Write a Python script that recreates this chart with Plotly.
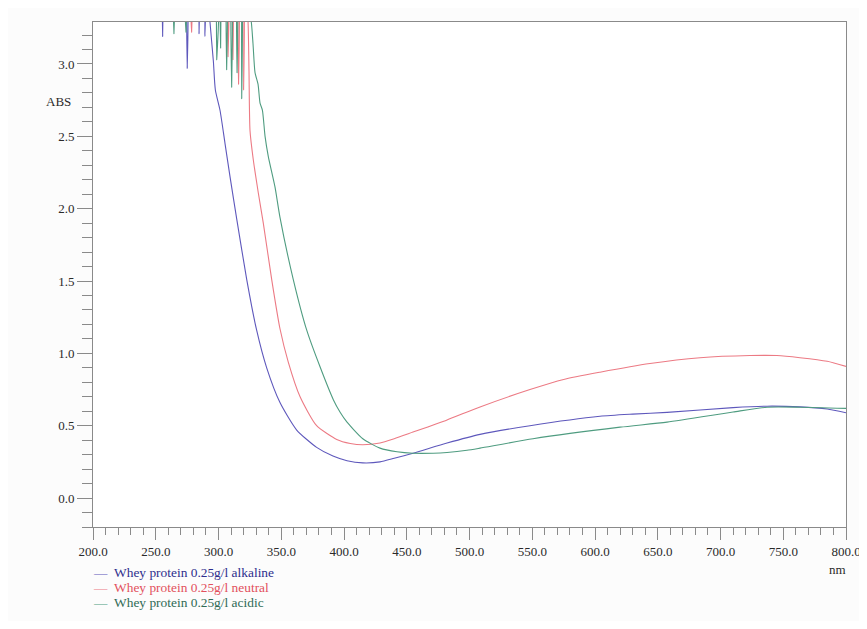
import plotly.graph_objects as go

# ---- data ----
alk_nm = [250, 254.5, 255.5, 256.5, 262, 273.5, 275.1, 276.5, 283.5, 284.5, 285.5, 288, 289.2, 290.5,
          293.2, 295.9, 297.5, 301.2, 305.2, 309.2, 314.5, 322.5, 330.4, 338.4, 349.0, 362.3, 378.2,
          391.2, 402.4, 415.0, 428.7, 440, 455.0, 482.1, 508.4, 548.2, 604.0, 630, 657.4,
          710.0, 737.1, 763.4, 785, 800]
alk_abs = [3.6, 3.6, 3.19, 3.6, 3.6, 3.6, 2.97, 3.6, 3.6, 3.21, 3.6, 3.6, 3.19, 3.6,
           3.29, 3.02, 2.82, 2.68, 2.45, 2.22, 1.93, 1.51, 1.16, 0.90, 0.66, 0.47, 0.35,
           0.29, 0.258, 0.243, 0.25, 0.275, 0.31, 0.38, 0.44, 0.50, 0.565, 0.58, 0.592,
           0.625, 0.635, 0.63, 0.615, 0.59]

neu_nm = [270, 277.8, 278.6, 279.4, 300, 306.8, 307.6, 308.4, 310.8, 311.5, 312.2, 315.3, 316.0, 316.7,
          319.3, 320.0, 320.7, 323.5, 324.3, 325.1, 327.7, 331.7, 335.7, 342.4, 349.0, 355.6, 365.0,
          378.2, 394.2, 405, 415.0, 428.7, 440, 455.0, 482.1, 508.4, 548.2, 575, 604.0,
          643.8, 683.7, 723.5, 745.0, 763.3, 785, 800]
neu_abs = [3.6, 3.6, 3.22, 3.6, 3.6, 3.6, 3.05, 3.6, 3.6, 3.03, 3.6, 3.6, 2.86, 3.6,
           3.6, 2.82, 3.6, 3.3, 2.95, 2.54, 2.34, 2.11, 1.90, 1.51, 1.17, 0.94, 0.70,
           0.50, 0.405, 0.377, 0.368, 0.38, 0.41, 0.456, 0.54, 0.63, 0.75, 0.82, 0.87,
           0.93, 0.97, 0.985, 0.985, 0.97, 0.945, 0.91]

aci_nm = [255, 263.8, 264.5, 265.2, 273.4, 274.1, 274.8, 297.9, 298.6, 299.3, 301.0, 301.7, 302.4,
          305.8, 306.5, 307.2, 309.8, 310.5, 311.2, 314.1, 314.8, 315.5, 317.8, 318.5, 319.2,
          326.0, 327.5, 329.1, 331.5, 333.1, 335.0, 337.1, 339.7, 345.0, 349.0, 359.6, 370.3,
          380.9, 391.5, 396.8, 402.4, 415.0, 428.7, 442.2, 455.0,
          471.0, 482.1, 498.0, 508.4, 550.6, 620.0, 657.4, 710.0, 737.1, 763.4, 800]
aci_abs = [3.6, 3.6, 3.21, 3.6, 3.6, 3.22, 3.6, 3.6, 3.03, 3.6, 3.6, 3.11, 3.6,
           3.6, 2.96, 3.6, 3.6, 2.84, 3.6, 3.6, 2.94, 3.6, 3.6, 2.76, 3.6,
           3.3, 3.14, 2.94, 2.86, 2.73, 2.68, 2.50, 2.36, 2.15, 1.94, 1.51, 1.16,
           0.907, 0.68, 0.595, 0.525, 0.41, 0.345, 0.32, 0.31,
           0.31, 0.315, 0.33, 0.345, 0.41, 0.49, 0.525, 0.595, 0.628, 0.628, 0.62]

series_names = ["Whey protein 0.25g/l alkaline",
                "Whey protein 0.25g/l neutral",
                "Whey protein 0.25g/l acidic"]
line_colors = ["#5e58bc", "#ec7a84", "#4f9c80"]
text_colors = ["#2e2e8c", "#e2505c", "#2f6a55"]

y_ticks = [0.0, 0.5, 1.0, 1.5, 2.0, 2.5, 3.0]
x_ticks = [200, 250, 300, 350, 400, 450, 500, 550, 600, 650, 700, 750, 800]

serif = "Liberation Serif, Times New Roman, serif"

fig = go.Figure()
legend_anns = []
for i, (xs, ys, nm, lc, tc) in enumerate(zip([alk_nm, neu_nm, aci_nm], [alk_abs, neu_abs, aci_abs],
                                             series_names, line_colors, text_colors)):
    fig.add_trace(go.Scatter(
        x=xs, y=ys, mode="lines",
        line=dict(color=lc, width=1.1, shape="spline", smoothing=0.6),
        name=nm, showlegend=False,
    ))
    legend_anns.append(dict(
        text=f"<span style='color:{lc}'>—</span> \u00a0<span style='color:{tc}'>{nm}</span>",
        xref="paper", yref="paper", x=-0.002, y=-0.091 - i * 0.0297,
        xanchor="left", yanchor="middle", showarrow=False,
        font=dict(family=serif, size=13.4)))

# the page body adds an 8px offset; figure shifted by it and kept short enough not to scroll
fig.update_layout(
    width=859, height=613,
    margin=dict(l=85, r=21, t=14, b=94, autoexpand=False),
    paper_bgcolor="#fcfcfc", plot_bgcolor="#ffffff",
    font=dict(family=serif, size=13, color="#2a2a2a"),
    showlegend=False,
    xaxis=dict(range=[200, 800], tickvals=x_ticks, automargin=False,
               ticktext=[f"{v:.1f}" for v in x_ticks],
               showgrid=False, zeroline=False,
               showline=True, linecolor="#8a8a8a", linewidth=1, mirror=True,
               ticks="outside", ticklen=12, tickcolor="#8a8a8a", tickwidth=1,
               minor=dict(dtick=10, tick0=200, ticks="outside", ticklen=7,
                          tickcolor="#8a8a8a", showgrid=False),
               tickfont=dict(family=serif, size=13, color="#2a2a2a")),
    yaxis=dict(range=[-0.2, 3.29], tickvals=y_ticks, automargin=False,
               ticktext=[f"{v:.1f}" for v in y_ticks],
               showgrid=False, zeroline=False,
               showline=True, linecolor="#8a8a8a", linewidth=1, mirror=True,
               ticks="outside", ticklen=15, tickcolor="#8a8a8a", tickwidth=1,
               minor=dict(dtick=0.1, tick0=0, ticks="outside", ticklen=10,
                          tickcolor="#8a8a8a", showgrid=False),
               tickfont=dict(family=serif, size=13, color="#2a2a2a")),
    annotations=[
        dict(text="ABS", xref="paper", yref="y", x=-0.0458, y=2.74,
             xanchor="center", yanchor="middle",
             showarrow=False, font=dict(family=serif, size=13, color="#2a2a2a")),
        dict(text="nm", xref="paper", yref="paper", x=0.989, y=-0.084,
             xanchor="center", yanchor="middle",
             showarrow=False, font=dict(family=serif, size=13, color="#2a2a2a")),
    ] + legend_anns,
)

fig.write_html("out.html")
